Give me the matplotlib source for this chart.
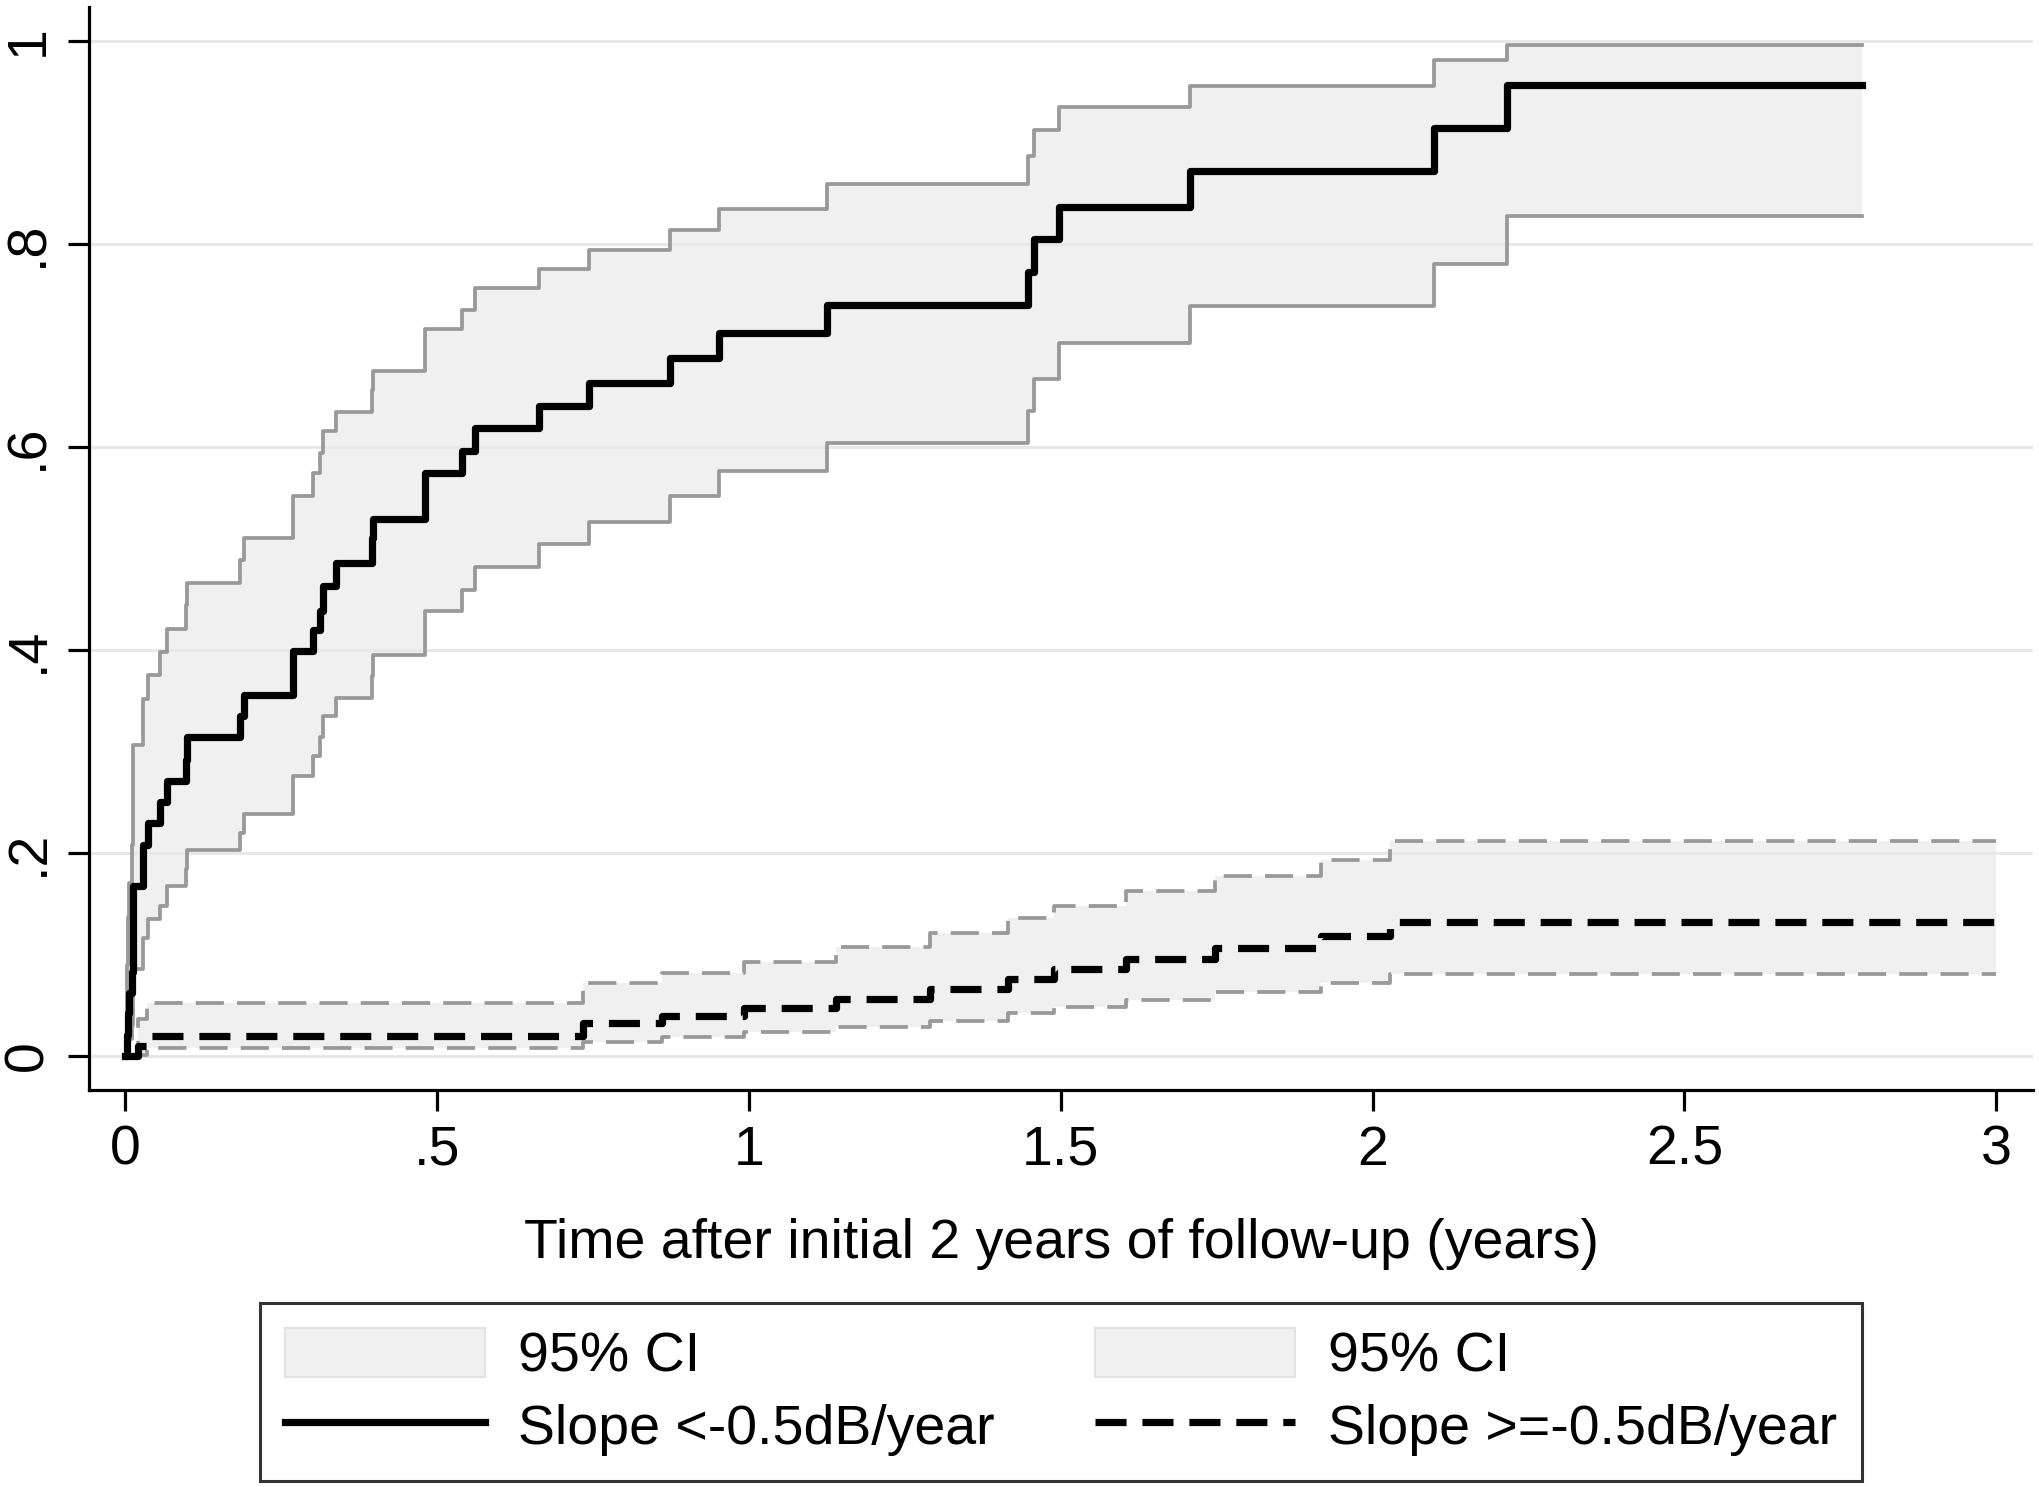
import matplotlib
matplotlib.use("Agg")
import matplotlib.pyplot as plt
from matplotlib.patches import Patch
from matplotlib.lines import Line2D

plt.rcParams["font.family"] = ["Liberation Sans Narrow", "Liberation Sans", "DejaVu Sans"]

# Group 1: slope < -0.5 dB/year (step times, failure estimate, 95% CI)
t_fast = [0, 0.003, 0.005, 0.007, 0.0107, 0.012, 0.0134, 0.029, 0.037, 0.056,
          0.068, 0.098, 0.100, 0.184, 0.190, 0.270, 0.302, 0.313, 0.318, 0.339,
          0.396, 0.398, 0.481, 0.541, 0.561, 0.663, 0.744, 0.874, 0.952, 1.126,
          1.448, 1.458, 1.497, 1.707, 2.099, 2.216]
est_fast = [0, 0.021, 0.042, 0.062, 0.083, 0.104, 0.167, 0.208, 0.229, 0.250,
            0.271, 0.291, 0.314, 0.335, 0.355, 0.399, 0.419, 0.438, 0.463, 0.485,
            0.510, 0.529, 0.574, 0.596, 0.618, 0.640, 0.663, 0.687, 0.712, 0.740,
            0.772, 0.805, 0.836, 0.871, 0.914, 0.956]
lo_fast = [0, 0.002, 0.008, 0.017, 0.030, 0.050, 0.086, 0.116, 0.135, 0.148,
           0.167, 0.184, 0.203, 0.220, 0.238, 0.276, 0.295, 0.314, 0.335, 0.353,
           0.374, 0.395, 0.438, 0.459, 0.482, 0.504, 0.526, 0.551, 0.576, 0.604,
           0.635, 0.667, 0.702, 0.739, 0.780, 0.827]
hi_fast = [0, 0.090, 0.137, 0.170, 0.208, 0.235, 0.306, 0.352, 0.375, 0.398,
           0.420, 0.444, 0.466, 0.488, 0.510, 0.551, 0.574, 0.594, 0.615, 0.634,
           0.656, 0.675, 0.716, 0.735, 0.756, 0.775, 0.794, 0.813, 0.834, 0.859,
           0.886, 0.912, 0.935, 0.955, 0.981, 0.996]
end_fast = 2.785

# Group 2: slope >= -0.5 dB/year
t_slow = [0, 0.02, 0.035, 0.734, 0.861, 0.992, 1.140, 1.291, 1.416, 1.490,
          1.604, 1.747, 1.917, 2.028]
est_slow = [0, 0.0099, 0.0197, 0.0328, 0.0394, 0.047, 0.0558, 0.0657, 0.0755,
            0.0854, 0.0952, 0.1067, 0.118, 0.1316]
lo_slow = [0, 0.0014, 0.0076, 0.0141, 0.0184, 0.024, 0.0289, 0.0348, 0.042,
           0.048, 0.0551, 0.0627, 0.0716, 0.0807]
hi_slow = [0, 0.036, 0.0525, 0.0722, 0.082, 0.093, 0.1077, 0.1215, 0.1356,
           0.1477, 0.1628, 0.1773, 0.193, 0.212]
end_slow = 3.0

x_ticks = [0, 0.5, 1, 1.5, 2, 2.5, 3]
x_labels = ["0", ".5", "1", "1.5", "2", "2.5", "3"]
y_ticks = [0, 0.2, 0.4, 0.6, 0.8, 1]
y_labels = ["0", ".2", ".4", ".6", ".8", "1"]

FILL = "#F0F0F0"
CI_LINE = "#999999"
FS = 40
EST_LW = 5.2
CI_LW = 2.7


def extend(t, vals, end):
    return list(t) + [end], list(vals) + [vals[-1]]


def draw_group(ax, t, est, lo, hi, end, dashed):
    tt, e = extend(t, est, end)
    _, l = extend(t, lo, end)
    _, h = extend(t, hi, end)
    ax.fill_between(tt, l, h, step="post", color=FILL, lw=0, zorder=0.3)
    if dashed:
        ci_kw = dict(linestyle=(0, (7.5, 3.5)))
        est_kw = dict(linestyle=(0, (4.3, 2.2)))
    else:
        ci_kw = dict(linestyle="-")
        est_kw = dict(linestyle="-")
    ax.step(tt, l, where="post", color=CI_LINE, lw=CI_LW, zorder=2, **ci_kw)
    ax.step(tt, h, where="post", color=CI_LINE, lw=CI_LW, zorder=2, **ci_kw)
    ax.step(tt, e, where="post", color="black", lw=EST_LW, zorder=3, **est_kw)


def main():
    fig = plt.figure(figsize=(20.4, 14.87), dpi=100)
    ax = fig.add_axes([0.0438, 0.267, 0.9528, 0.7285])

    draw_group(ax, t_fast, est_fast, lo_fast, hi_fast, end_fast, dashed=False)
    draw_group(ax, t_slow, est_slow, lo_slow, hi_slow, end_slow, dashed=True)

    ax.set_xlim(-0.0572, 3.059)
    ax.set_ylim(-0.0335, 1.0333)

    ax.set_xticks(x_ticks)
    ax.set_xticklabels(x_labels, fontsize=FS)
    ax.set_yticks(y_ticks)
    ax.set_yticklabels(y_labels, fontsize=FS, rotation=90, va="center")
    ax.tick_params(direction="out", length=15, width=2.3, color="black", pad=10)

    ax.set_axisbelow(True)
    ax.yaxis.grid(True, color="#E8E8E8", lw=2.2)
    ax.xaxis.grid(False)

    for side in ["top", "right"]:
        ax.spines[side].set_visible(False)
    for side in ["left", "bottom"]:
        ax.spines[side].set_linewidth(2.3)
        ax.spines[side].set_color("black")

    ax.set_xlabel("Time after initial 2 years of follow-up (years)", fontsize=FS,
                  labelpad=30)

    handles = [
        Patch(facecolor=FILL, edgecolor="#E2E2E2", lw=1.5),
        Line2D([], [], color="black", lw=EST_LW),
        Patch(facecolor=FILL, edgecolor="#E2E2E2", lw=1.5),
        Line2D([], [], color="black", lw=EST_LW, linestyle=(0, (4.3, 2.2))),
    ]
    labels = ["95% CI", "Slope <-0.5dB/year", "95% CI", "Slope >=-0.5dB/year"]
    leg = fig.legend(handles, labels, loc="upper center",
                     bbox_to_anchor=(0.52, 0.1239), ncol=2, fontsize=FS,
                     frameon=True, fancybox=False, edgecolor="black",
                     handlelength=3.6, handleheight=1.0, handletextpad=0.6,
                     columnspacing=1.8, labelspacing=0.3, borderpad=0.45,
                     borderaxespad=0)
    leg.get_frame().set_linewidth(2.2)

    fig.savefig("out.png", dpi=100, facecolor="white")
    plt.close(fig)


if __name__ == "__main__":
    main()
